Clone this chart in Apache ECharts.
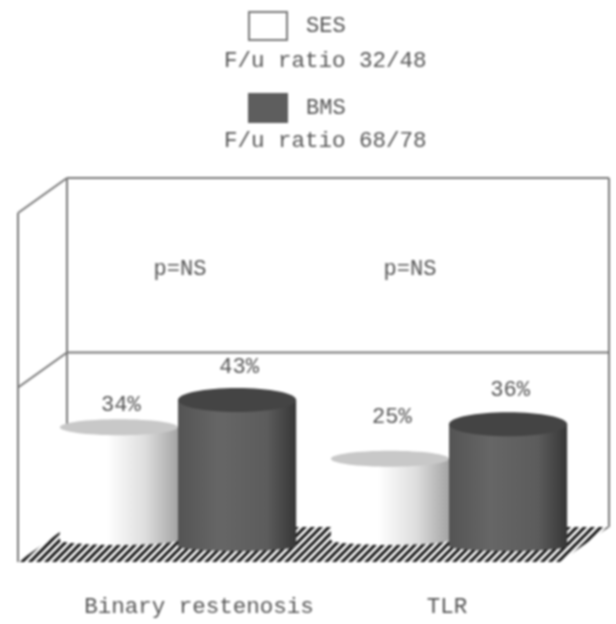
<!DOCTYPE html>
<html>
<head>
<meta charset="utf-8">
<style>html,body{margin:0;padding:0;background:#fff}#c{width:616px;height:624px;filter:blur(0.8px)}</style>
<script src="https://cdn.jsdelivr.net/npm/echarts@6/dist/echarts.min.js"></script>
</head>
<body>
<div id="c"></div>
<script>
const categories = ['Binary restenosis', 'TLR'];
const sesValues = [34, 25];
const bmsValues = [43, 36];
const pLabels = ['p=NS', 'p=NS'];
const ratioLabels = ['F/u ratio 32/48', 'F/u ratio 68/78'];
const yTicks = [0, 50, 100];

const FONT = '"Liberation Mono", monospace';
const TEXT = '#555';
const LINE = '#777';

const tile = document.createElement('canvas');
tile.width = 8; tile.height = 8;
(function () {
  const g = tile.getContext('2d');
  g.fillStyle = '#fff'; g.fillRect(0, 0, 8, 8);
  g.strokeStyle = '#111'; g.lineWidth = 3;
  [[-4, 4, 4, -4], [0, 8, 8, 0], [4, 12, 12, 4]].forEach(function (s) {
    g.beginPath(); g.moveTo(s[0], s[1]); g.lineTo(s[2], s[3]); g.stroke();
  });
})();

const FRONT = [-24.5, 12], BACK = [24.5, -23];
function at(p, off) { return [p[0] + off[0], p[1] + off[1]]; }

function renderFrame(params, api) {
  const bw = api.size([1, 0])[0];
  const l0 = api.coord([0, 0]), mid = l0[0] - bw / 2;
  const left = mid, right = mid + bw * categories.length;
  const y = function (v) { return api.coord([0, v])[1]; };
  const children = [];
  const ln = function (a, b) {
    children.push({ type: 'line', shape: { x1: a[0], y1: a[1], x2: b[0], y2: b[1] },
      style: { stroke: LINE, lineWidth: 2 } });
  };
  children.push({ type: 'polygon', shape: { points: [
    at([left, y(0)], FRONT), at([right, y(0)], FRONT), at([right, y(0)], BACK), at([left, y(0)], BACK)
  ] }, style: { fill: { image: tile, repeat: 'repeat' } } });
  ln(at([left, y(100)], BACK), at([right, y(100)], BACK));
  ln(at([right, y(100)], BACK), at([right, y(0)], BACK));
  ln(at([left, y(100)], BACK), at([left, y(0)], BACK));
  ln(at([left, y(100)], FRONT), at([left, y(0)], FRONT));
  yTicks.slice(1).forEach(function (t) {
    ln(at([left, y(t)], FRONT), at([left, y(t)], BACK));
    ln(at([left, y(t)], BACK), at([right, y(t)], BACK));
  });
  pLabels.forEach(function (s, i) {
    const c = api.coord([i, 80]);
    children.push({ type: 'text', style: { text: s, x: [180, 410][i], y: c[1] - 2, font: '22px ' + FONT,
      fill: TEXT, align: 'center', verticalAlign: 'middle' } });
  });
  return { type: 'group', children: children };
}

function cylinder(kind, nudge) {
  const dark = kind === 'dark';
  return function (params, api) {
    const i = api.value(0), v = api.value(1);
    const top = api.coord([i, v]), base = api.coord([i, 0]);
    const bw = api.size([1, 0])[0];
    const w = bw * 0.436;
    const cx = top[0] + (dark ? w / 2 : -w / 2);
    const rx = w / 2, ry = dark ? 12 : 8;
    const topY = top[1] + (dark ? 0 : -4);
    const grad = dark
      ? { type: 'linear', x: 0, y: 0, x2: 1, y2: 0, colorStops: [
          { offset: 0, color: '#545454' }, { offset: 0.35, color: '#666666' },
          { offset: 0.75, color: '#5c5c5c' }, { offset: 1, color: '#363636' }] }
      : { type: 'linear', x: 0, y: 0, x2: 1, y2: 0, colorStops: [
          { offset: 0, color: '#ffffff' }, { offset: 0.4, color: '#ffffff' },
          { offset: 0.72, color: '#dedede' }, { offset: 1, color: '#a4a4a4' }] };
    const bottom = base[1] - (dark ? 4 : 10);
    return { type: 'group', children: [
      { type: 'ellipse', shape: { cx: cx, cy: bottom, rx: rx, ry: 5 }, style: { fill: grad } },
      { type: 'rect', shape: { x: cx - rx, y: topY, width: w, height: bottom - topY }, style: { fill: grad } },
      { type: 'ellipse', shape: { cx: cx, cy: topY, rx: rx, ry: ry },
        style: { fill: dark ? '#444444' : '#c8c8c8' } },
      { type: 'text', style: { text: v + '%', x: cx + 2, y: top[1] + nudge[i], font: '22px ' + FONT,
        fill: TEXT, align: 'center', verticalAlign: 'middle' } }
    ] };
  };
}

const chart = echarts.init(document.getElementById('c'), null, { renderer: 'canvas' });
chart.setOption({
  animation: false,
  backgroundColor: '#fff',
  grid: { left: 42.5, width: 542, top: 201, height: 349, containLabel: false },
  xAxis: { type: 'category', data: categories, axisLine: { show: false }, axisTick: { show: false },
    axisLabel: { interval: 0, hideOverlap: false, margin: 46, color: TEXT, fontFamily: FONT, fontSize: 22.5,
      formatter: function (v, i) { return i === 0 ? '{a|' + v + '}' : '{b|' + v + '}'; },
      rich: { a: { padding: [0, 0, 0, 42], color: TEXT, fontFamily: FONT, fontSize: 22.5 },
              b: { padding: [0, 4, 0, 0], color: TEXT, fontFamily: FONT, fontSize: 22.5 } } } },
  yAxis: { type: 'value', min: 0, max: 100, interval: 50, show: false },
  legend: { data: ['SES', 'BMS'], orient: 'vertical', left: 243, top: 6, itemWidth: 38, itemHeight: 28,
    itemGap: 52, icon: 'rect', textStyle: { color: TEXT, fontFamily: FONT, fontSize: 22, padding: [0, 0, 0, 14] }, selectedMode: false },
  graphic: ratioLabels.map(function (s, i) {
    return { type: 'text', left: 224, top: [50, 130][i], style: { text: s, font: '22.5px ' + FONT, fill: TEXT } };
  }),
  series: [
    { type: 'custom', name: 'frame', silent: true, data: [[0, 0]], encode: { x: 0, y: 1 }, renderItem: renderFrame, z: 1 },
    { type: 'custom', name: 'SES', data: sesValues.map(function (v, i) { return [i, v]; }), encode: { x: 0, y: 1 },
      itemStyle: { color: '#fff', borderColor: '#777', borderWidth: 2 }, renderItem: cylinder('light', [-26, -46]), z: 2 },
    { type: 'custom', name: 'BMS', data: bmsValues.map(function (v, i) { return [i, v]; }), encode: { x: 0, y: 1 },
      itemStyle: { color: '#5e5e5e', borderColor: '#5e5e5e', borderWidth: 1 }, renderItem: cylinder('dark', [-33, -34]), z: 3 }
  ]
});
</script>
</body>
</html>
